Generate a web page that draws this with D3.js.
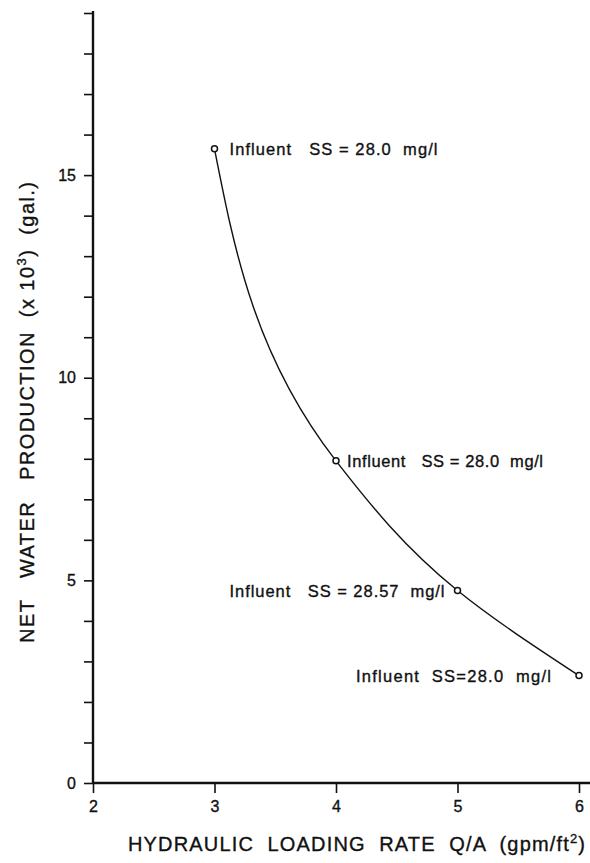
<!DOCTYPE html>
<html><head><meta charset="utf-8">
<script src="https://cdn.jsdelivr.net/npm/d3@7"></script>
<style>
body{margin:0;background:#fff;}
text{font-family:"Liberation Sans",Arial,sans-serif;fill:#111;stroke:#111;stroke-width:0.35px;}
</style></head>
<body><svg id="c" width="590" height="863"></svg>
<script>
const loadingRate = [3, 4, 5, 6];
const netProduction = [15.65, 7.95, 4.75, 2.65];
const influentLabels = ["Influent   SS = 28.0  mg/l", "Influent   SS = 28.0  mg/l", "Influent   SS = 28.57  mg/l", "Influent  SS=28.0  mg/l"];
const xTicks = [2, 3, 4, 5, 6];
const yTicks = d3.range(0, 20);
const yTickLabels = [0, 5, 10, 15];

const svg = d3.select("#c");
const x = d3.scaleLinear().domain([2, 6]).range([93, 579]);
const y = d3.scaleLinear().domain([0, 19]).range([783, 13]);
const ink = "#111";

// axes
const gx = svg.append("g").attr("transform", `translate(0,${y(0)})`)
  .call(d3.axisBottom(x).tickValues(xTicks).tickSize(10).tickSizeOuter(0).tickPadding(8).tickFormat(d3.format("d")));
const gy = svg.append("g").attr("transform", `translate(${x(2)},0)`)
  .call(d3.axisLeft(y).tickValues(yTicks).tickSize(9).tickSizeOuter(0).tickPadding(8)
    .tickFormat(d => yTickLabels.includes(d) ? d : ""));
[gx, gy].forEach(g => {
  g.select(".domain").remove();
  g.selectAll(".tick line").attr("stroke", ink).attr("stroke-width", 1.6);
  g.selectAll(".tick text").attr("font-size", 16).attr("fill", ink)
    .style("font-family", '"Liberation Sans",Arial,sans-serif');
});
svg.append("line").attr("x1", x(2)).attr("x2", x(6) + 11).attr("y1", y(0)).attr("y2", y(0))
  .attr("stroke", ink).attr("stroke-width", 2.4);
svg.append("line").attr("x1", x(2)).attr("x2", x(2)).attr("y1", y(0)).attr("y2", y(19) - 2)
  .attr("stroke", ink).attr("stroke-width", 2.4);

// curve
const pts = loadingRate.map((d, i) => [d, netProduction[i]]);
const line = d3.line().x(d => x(d[0])).y(d => y(d[1])).curve(d3.curveMonotoneY);
svg.append("path").datum(pts).attr("d", line).attr("fill", "none").attr("stroke", ink).attr("stroke-width", 1.4);
svg.selectAll("circle.pt").data(pts).join("circle").attr("class", "pt")
  .attr("cx", d => x(d[0])).attr("cy", d => y(d[1])).attr("r", 3)
  .attr("fill", "#fff").attr("stroke", ink).attr("stroke-width", 1.5);

// annotations
const annot = [
  {dx: 15, anchor: "start", w: 208},
  {dx: 11, anchor: "start", w: 196},
  {dx: -13, anchor: "end", w: 215},
  {dx: -28, anchor: "end", w: 195}
];
pts.forEach((d, i) => {
  const a = annot[i];
  svg.append("text").attr("x", x(d[0]) + a.dx).attr("y", y(d[1]) + 6)
    .attr("text-anchor", a.anchor).attr("font-size", 16.5)
    .attr("textLength", a.w).attr("lengthAdjust", "spacing")
    .style("white-space", "pre").text(influentLabels[i]);
});

// axis titles
const xt = svg.append("text").attr("x", 128).attr("y", 851).attr("font-size", 20)
  .attr("textLength", 457).attr("lengthAdjust", "spacing").style("white-space", "pre");
xt.append("tspan").text("HYDRAULIC  LOADING  RATE  Q/A  (gpm/ft");
xt.append("tspan").attr("dy", -8).attr("font-size", 13).text("2");
xt.append("tspan").attr("dy", 8).text(")");

const yt = svg.append("text").attr("transform", "translate(34,643) rotate(-90)")
  .attr("x", 0).attr("y", 0).attr("font-size", 20)
  .attr("textLength", 461).attr("lengthAdjust", "spacing").style("white-space", "pre");
yt.append("tspan").text("NET   WATER   PRODUCTION  (x 10");
yt.append("tspan").attr("dy", -8).attr("font-size", 13).text("3");
yt.append("tspan").attr("dy", 8).text(")  (gal.)");
</script></body></html>
